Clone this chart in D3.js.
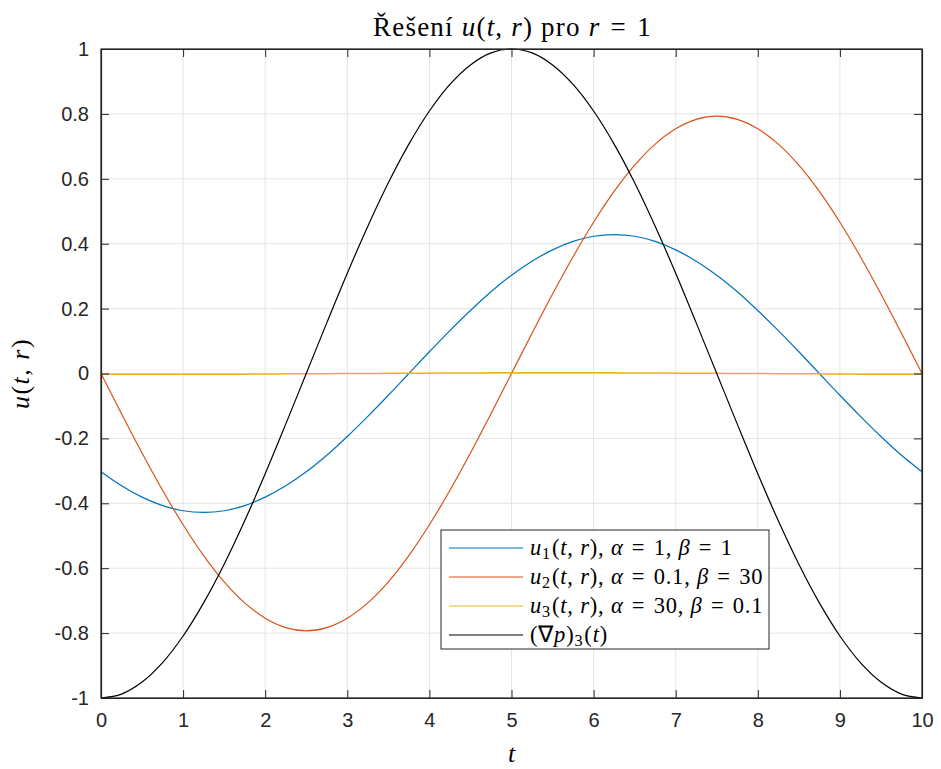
<!DOCTYPE html>
<html><head><meta charset="utf-8">
<script src="https://cdn.jsdelivr.net/npm/d3@7"></script>
<style>body{margin:0;background:#fff}svg{display:block}</style>
</head><body>
<script>
const tValues = [0,0.25,0.5,0.75,1,1.25,1.5,1.75,2,2.25,2.5,2.75,3,3.25,3.5,3.75,4,4.25,4.5,4.75,5,5.25,5.5,5.75,6,6.25,6.5,6.75,7,7.25,7.5,7.75,8,8.25,8.5,8.75,9,9.25,9.5,9.75,10];
const u1 = [-0.303,-0.346,-0.381,-0.407,-0.423,-0.428,-0.423,-0.407,-0.381,-0.346,-0.303,-0.252,-0.194,-0.132,-0.067,0,0.067,0.132,0.194,0.252,0.303,0.346,0.381,0.407,0.423,0.428,0.423,0.407,0.381,0.346,0.303,0.252,0.194,0.132,0.067,0,-0.067,-0.132,-0.194,-0.252,-0.303];
const u2 = [0,-0.124,-0.245,-0.360,-0.466,-0.561,-0.642,-0.707,-0.754,-0.783,-0.793,-0.783,-0.754,-0.707,-0.642,-0.561,-0.466,-0.360,-0.245,-0.124,0,0.124,0.245,0.360,0.466,0.561,0.642,0.707,0.754,0.783,0.793,0.783,0.754,0.707,0.642,0.561,0.466,0.360,0.245,0.124,0];
const u3 = [-0.002,-0.002,-0.002,-0.002,-0.002,-0.002,-0.002,-0.002,-0.0015,-0.001,-0.001,-0.0005,0,0,0.0005,0.001,0.001,0.0015,0.0015,0.002,0.002,0.002,0.002,0.002,0.002,0.002,0.0015,0.0015,0.001,0.001,0.0005,0,0,-0.0005,-0.001,-0.001,-0.0015,-0.002,-0.002,-0.002,-0.002];
const gradP = [-1,-0.988,-0.951,-0.891,-0.809,-0.707,-0.588,-0.454,-0.309,-0.156,0,0.156,0.309,0.454,0.588,0.707,0.809,0.891,0.951,0.988,1,0.988,0.951,0.891,0.809,0.707,0.588,0.454,0.309,0.156,0,-0.156,-0.309,-0.454,-0.588,-0.707,-0.809,-0.891,-0.951,-0.988,-1];
const xTicks = [0,1,2,3,4,5,6,7,8,9,10];
const yTicks = [-1,-0.8,-0.6,-0.4,-0.2,0,0.2,0.4,0.6,0.8,1];
const yTickLabels = ["-1","-0.8","-0.6","-0.4","-0.2","0","0.2","0.4","0.6","0.8","1"];
const seriesColors = ["#0072BD","#D95319","#EDB120","#000000"];

const W=941,H=769;
const L=101,R=922,T=49,B=698;
const svg=d3.select("body").append("svg").attr("width",W).attr("height",H);
const x=d3.scaleLinear().domain([0,10]).range([L,R]);
const y=d3.scaleLinear().domain([-1,1]).range([B,T]);
const axisColor="#262626";
const numFont="'Liberation Sans', Arial, sans-serif";
const mathFont="'Liberation Serif', 'Times New Roman', serif";
const EQ="\u2004=\u2004";

// grid
const g=svg.append("g");
g.selectAll(".gx").data(xTicks).enter().append("line")
 .attr("x1",d=>x(d)).attr("x2",d=>x(d)).attr("y1",T).attr("y2",B)
 .attr("stroke","#e5e5e5").attr("stroke-width",1);
g.selectAll(".gy").data(yTicks).enter().append("line")
 .attr("y1",d=>y(d)).attr("y2",d=>y(d)).attr("x1",L).attr("x2",R)
 .attr("stroke","#e5e5e5").attr("stroke-width",1);

// curves
const series=[u1,u2,u3,gradP];
const line=d3.line().x((d,i)=>x(tValues[i])).y(d=>y(d)).curve(d3.curveCatmullRom);
series.forEach((s,i)=>{
  svg.append("path").datum(s).attr("d",line).attr("fill","none")
   .attr("stroke",seriesColors[i]).attr("stroke-width",i===2?1.5:1.2);
});

// axes with inward ticks
const xb=svg.append("g").attr("transform",`translate(0,${B})`)
 .call(d3.axisBottom(x).tickValues(xTicks).tickSizeInner(-8).tickSizeOuter(0).tickPadding(15).tickFormat(d3.format("d")));
const xt=svg.append("g").attr("transform",`translate(0,${T})`)
 .call(d3.axisTop(x).tickValues(xTicks).tickSizeInner(-8).tickSizeOuter(0).tickFormat(""));
const yl=svg.append("g").attr("transform",`translate(${L},0)`)
 .call(d3.axisLeft(y).tickValues(yTicks).tickSizeInner(-8).tickSizeOuter(0).tickPadding(12).tickFormat((d,i)=>yTickLabels[i]));
const yr=svg.append("g").attr("transform",`translate(${R},0)`)
 .call(d3.axisRight(y).tickValues(yTicks).tickSizeInner(-8).tickSizeOuter(0).tickFormat(""));
[xb,xt,yl,yr].forEach(a=>{
  a.selectAll("path").attr("stroke",axisColor).attr("stroke-width",1.2);
  a.selectAll("line").attr("stroke",axisColor).attr("stroke-width",1);
  a.selectAll("text").attr("fill",axisColor).style("font-family",numFont).style("font-size","20px");
});
xb.selectAll("text").attr("dy","0.71em");
// box
svg.append("rect").attr("x",L).attr("y",T).attr("width",R-L).attr("height",B-T)
 .attr("fill","none").attr("stroke",axisColor).attr("stroke-width",1.2);

// math text helper
function mathText(sel, parts){
  parts.forEach(p=>{
    const ts=sel.append("tspan").text(p.t);
    if(p.i) ts.style("font-style","italic");
    if(p.sub){ ts.attr("baseline-shift","-25%").style("font-size","0.72em"); }
    if(p.dx) ts.attr("dx",p.dx);
  });
}

// title
const title=svg.append("text").attr("x",(L+R)/2+1).attr("y",36).attr("text-anchor","middle")
 .style("font-family",mathFont).style("font-size","27px").style("letter-spacing","1.2px").attr("fill","#000");
mathText(title,[{t:"Řešení "},{t:"u",i:1},{t:"("},{t:"t",i:1},{t:", "},{t:"r",i:1},{t:") pro "},{t:"r",i:1},{t:EQ+"1"}]);

// x label
svg.append("text").attr("x",(L+R)/2).attr("y",762).attr("text-anchor","middle")
 .style("font-family",mathFont).style("font-size","26px").style("font-style","italic").text("t");
// y label
const ylab=svg.append("text").attr("transform",`translate(29,${(T+B)/2}) rotate(-90)`).attr("text-anchor","middle")
 .style("font-family",mathFont).style("font-size","26px").style("letter-spacing","1.5px");
mathText(ylab,[{t:"u",i:1},{t:"("},{t:"t",i:1},{t:", "},{t:"r",i:1},{t:")"}]);

// legend
const lg=svg.append("g");
lg.append("rect").attr("x",441).attr("y",530).attr("width",328).attr("height",119)
 .attr("fill","#fff").attr("stroke",axisColor).attr("stroke-width",1);
const legendParts=[
 [{t:"u",i:1},{t:"1",sub:1},{t:"(",dx:1},{t:"t",i:1},{t:", "},{t:"r",i:1},{t:"), "},{t:"α",i:1},{t:EQ+"1, "},{t:"β",i:1},{t:EQ+"1"}],
 [{t:"u",i:1},{t:"2",sub:1},{t:"(",dx:1},{t:"t",i:1},{t:", "},{t:"r",i:1},{t:"), "},{t:"α",i:1},{t:EQ+"0.1, "},{t:"β",i:1},{t:EQ+"30"}],
 [{t:"u",i:1},{t:"3",sub:1},{t:"(",dx:1},{t:"t",i:1},{t:", "},{t:"r",i:1},{t:"), "},{t:"α",i:1},{t:EQ+"30, "},{t:"β",i:1},{t:EQ+"0.1"}],
 [{t:"(∇"},{t:"p",i:1},{t:")"},{t:"3",sub:1},{t:"(",dx:1},{t:"t",i:1},{t:")"}]
];
legendParts.forEach((parts,i)=>{
  const yy=548+i*29;
  lg.append("line").attr("x1",449).attr("x2",523).attr("y1",yy).attr("y2",yy)
   .attr("stroke",seriesColors[i]).attr("stroke-width",1.2);
  const tx=lg.append("text").attr("x",530).attr("y",yy+7)
   .style("font-family",mathFont).style("font-size","22.5px").style("letter-spacing","0.8px").attr("fill","#000");
  mathText(tx,parts);
});
</script>
</body></html>
